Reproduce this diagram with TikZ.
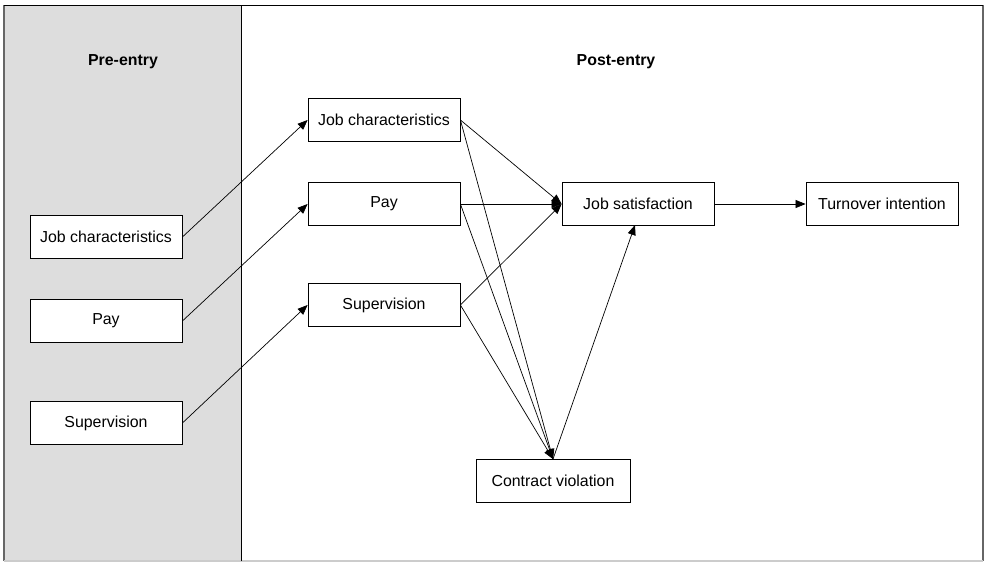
\documentclass[tikz,border=0pt]{standalone}
\usepackage{fontspec}
\setmainfont{Liberation Sans}
\usetikzlibrary{arrows.meta}
\definecolor{panelgray}{HTML}{DDDDDD}
\tikzset{
  box/.style={draw=black, line width=0.8pt, fill=white, minimum width=152pt, minimum height=43pt, inner sep=0pt, font=\fontsize{15.9}{18}\selectfont},
  title/.style={font=\fontsize{15.9}{18}\selectfont\bfseries},
  arr/.style={-{Triangle[length=10pt,width=8pt]}, line width=0.7pt, shorten >=0pt}
}
\begin{document}
\begin{tikzpicture}[x=1pt,y=-1pt]
\useasboundingbox (0,0) rectangle (984,562);
\fill[white] (0,0) rectangle (984,562);
\fill[panelgray] (4,5) rectangle (241,561);
\draw[black!60, line width=1.2pt] (4,5) -- (4,561) (983,5) -- (983,561);
\draw[black!20, line width=1.2pt] (4,561) -- (983,561);
\draw[black, line width=1pt] (4,5) -- (983,5);
\draw[black, line width=1pt] (241,5) -- (241,561);

\node[title] (pre) at (123,62) {Pre-entry};
\node[title] (post) at (616,62) {Post-entry};

\node[box] (ljc) at (106,237) {Job characteristics};
\node[box] (lpay) at (106,321) {Pay};
\node[box] (lsup) at (106,423) {Supervision};

\node[box] (mjc) at (384,120) {Job characteristics};
\node[box] (mpay) at (384,204) {Pay};
\node[box] (msup) at (384,305) {Supervision};

\node[box] (js) at (638,204) {Job satisfaction};
\node[box] (ti) at (882,204) {Turnover intention};
\node[box, minimum width=154pt] (cv) at (553,481) {Contract violation};

\coordinate (jsin) at (js.west);
\coordinate (cvin) at (cv.north);
\coordinate (jsbot) at (635,225);

\draw[arr] (ljc.east) -- (mjc.west);
\draw[arr] (lpay.east) -- (mpay.west);
\draw[arr] (lsup.east) -- (msup.west);

\draw[arr] (mjc.east) -- (jsin);
\draw[arr] (mjc.east) -- (cvin);
\draw[arr] (mpay.east) -- (jsin);
\draw[arr] (mpay.east) -- (cvin);
\draw[arr] (msup.east) -- (jsin);
\draw[arr] (msup.east) -- (cvin);
\draw[arr] (cvin) -- (jsbot);
\draw[arr] (js.east) -- (ti.west);
\end{tikzpicture}
\end{document}
